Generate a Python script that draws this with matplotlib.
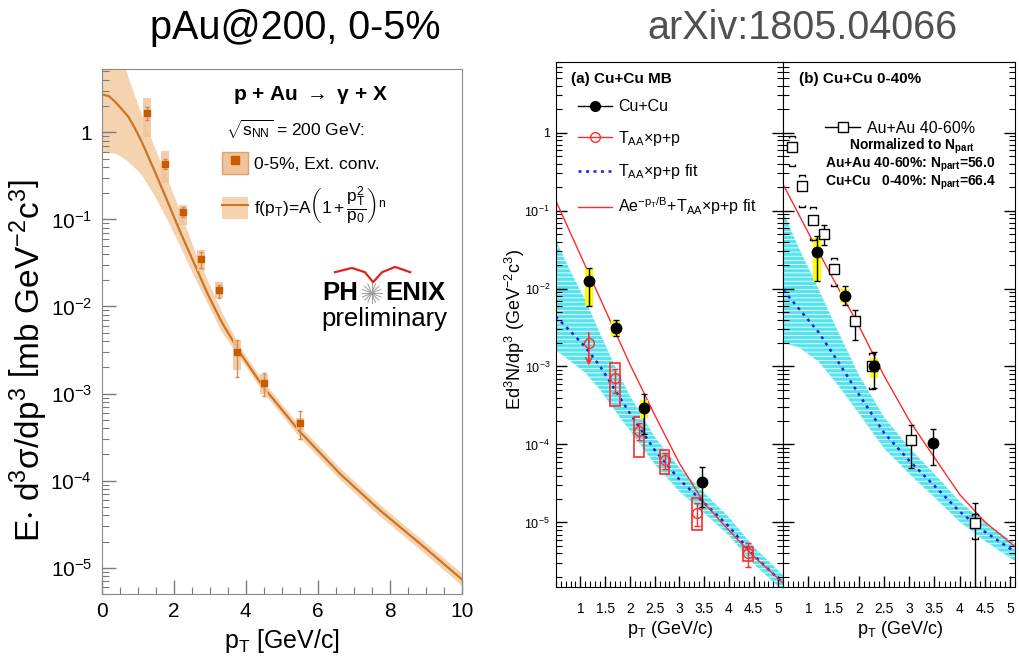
import numpy as np
import matplotlib
matplotlib.use("Agg")
import matplotlib.pyplot as plt
from matplotlib.patches import Patch
from matplotlib.lines import Line2D
from matplotlib.path import Path
from matplotlib.ticker import (LogLocator, MultipleLocator, FixedLocator, FuncFormatter,
                               NullFormatter)

plt.rcParams['font.family'] = ['Liberation Sans', 'DejaVu Sans']
plt.rcParams['mathtext.fontset'] = 'custom'
plt.rcParams['mathtext.rm'] = 'Liberation Sans'
plt.rcParams['mathtext.it'] = 'Liberation Sans:italic'
plt.rcParams['mathtext.bf'] = 'Liberation Sans:bold'
plt.rcParams['mathtext.default'] = 'regular'
plt.rcParams['hatch.linewidth'] = 0.6

# ---- left panel: p+Au direct photons, 0-5% ----
pau_pt = [1.25, 1.75, 2.25, 2.75, 3.25, 3.75, 4.5, 5.5]
pau_y = [1.68, 0.435, 0.122, 0.0352, 0.0153, 2.98e-3, 1.34e-3, 4.6e-4]
pau_stat_hi = [1.97, 0.50, 0.140, 0.0425, 0.0176, 4.1e-3, 1.73e-3, 6.3e-4]
pau_stat_lo = [1.38, 0.38, 0.107, 0.0278, 0.0124, 1.55e-3, 9.5e-4, 3.0e-4]
pau_sys_hi = [2.45, 0.617, 0.146, 0.0443, 0.0192, 4.1e-3, 1.7e-3, 5.3e-4]
pau_sys_lo = [0.89, 0.263, 0.0859, 0.0257, 0.01236, 1.86e-3, 1.0e-3, 3.85e-4]

fit_pt = [0, 0.2, 0.37, 0.55, 0.74, 0.92, 1.11, 1.48, 1.85, 2.22, 2.59, 2.96, 3.33,
          3.84, 4.49, 5.51, 6.62, 7.73, 8.84, 10]
fit_y = [2.735, 2.60, 2.25, 1.86, 1.51, 1.12, 0.78, 0.352, 0.153, 0.066, 0.0299, 0.0135,
         6.65e-3, 2.95e-3, 1.19e-3, 3.63e-4, 1.2e-4, 4.57e-5, 1.9e-5, 7.4e-6]
fit_hi = [60, 30, 14, 7.5, 4.2, 2.6, 1.58, 0.655, 0.27, 0.112, 0.0427, 0.0192, 8.7e-3,
          3.45e-3, 1.37e-3, 4.2e-4, 1.4e-4, 5.3e-5, 2.2e-5, 8.7e-6]
fit_lo = [0.59, 0.585, 0.574, 0.525, 0.459, 0.39, 0.324, 0.182, 0.0933, 0.0447, 0.0209,
          0.01035, 5.1e-3, 2.55e-3, 1.03e-3, 3.1e-4, 1.03e-4, 3.9e-5, 1.62e-5, 6.3e-6]
left_decades = [1e-5, 1e-4, 1e-3, 1e-2, 1e-1, 1]

# ---- right panel (a): Cu+Cu MB ----
cucu_mb_pt = [1.17, 1.71, 2.29, 3.46]
cucu_mb_y = [0.0123, 3.1e-3, 2.9e-4, 3.26e-5]
cucu_mb_stat_hi = [0.0182, 3.9e-3, 4.4e-4, 5.1e-5]
cucu_mb_stat_lo = [6.0e-3, 2.46e-3, 1.36e-4, 1.6e-5]
cucu_mb_sys_hi = [0.0185, 3.8e-3, 3.7e-4, 3.6e-5]
cucu_mb_sys_lo = [5.9e-3, 2.4e-3, 2.2e-4, 2.75e-5]

taa_pt = [1.17, 1.69, 2.18, 2.70, 3.36, 4.39]
taa_y = [2.0e-3, 7.1e-4, 1.47e-4, 6.4e-5, 1.32e-5, 4.1e-6]
taa_stat_hi = [np.nan, 9.3e-4, 1.86e-4, 7.8e-5, 1.78e-5, 5.5e-6]
taa_stat_lo = [np.nan, 4.6e-4, 1.15e-4, 4.8e-5, 8.9e-6, 2.7e-6]
taa_sys_hi = [np.nan, 1.12e-3, 2.24e-4, 8.5e-5, 2.04e-5, 4.9e-6]
taa_sys_lo = [np.nan, 3.16e-4, 7.0e-5, 4.2e-5, 7.9e-6, 3.2e-6]
taa_limit = [2.95e-3, 9.5e-4]   # upper-limit arrow, first point

a_fit_pt = [0.5, 0.8, 1.1, 1.4, 1.7, 2.0, 2.5, 3.0, 3.5, 4.0, 4.5, 5.1]
a_fit_y = [4.37e-3, 2.82e-3, 1.78e-3, 1.0e-3, 5.0e-4, 2.51e-4, 8.5e-5, 3.55e-5, 1.78e-5, 8.9e-6, 3.8e-6, 1.66e-6]
a_band_hi = [4.2e-2, 1.66e-2, 7.1e-3, 2.63e-3, 1.0e-3, 4.2e-4, 1.26e-4, 5.0e-5, 2.4e-5, 1.17e-5, 4.9e-6, 2.1e-6]
a_band_lo = [1.62e-3, 1.17e-3, 8.3e-4, 5.0e-4, 2.7e-4, 1.51e-4, 5.6e-5, 2.5e-5, 1.32e-5, 6.8e-6, 2.95e-6, 1.32e-6]

tot_pt = [0.5, 1.0, 1.5, 2.0, 2.5, 3.0, 3.5, 4.0, 4.5, 5.1]
a_tot_y = [0.135, 0.0269, 5.37e-3, 1.07e-3, 2.4e-4, 5.75e-5, 1.78e-5, 7.9e-6, 3.7e-6, 1.66e-6]

# ---- right panel (b): Cu+Cu 0-40% ----
cucu_c_pt = [1.17, 1.72, 2.30, 3.48]
cucu_c_y = [0.0293, 8.1e-3, 1.0e-3, 1.04e-4]
cucu_c_stat_hi = [0.047, 0.0107, 1.55e-3, 1.58e-4]
cucu_c_stat_lo = [0.0123, 6.2e-3, 5.3e-4, 5.4e-5]
cucu_c_sys_hi = [0.044, 9.8e-3, 1.29e-3, 1.2e-4]
cucu_c_sys_lo = [0.0123, 6.5e-3, 7.1e-4, 8.9e-5]

auau_pt = [0.67, 0.88, 1.08, 1.30, 1.51, 1.92, 2.26, 3.04, 4.31]
auau_y = [0.65, 0.207, 0.0745, 0.05, 0.0178, 3.8e-3, 1.02e-3, 1.15e-4, 9.8e-6]
auau_stat_hi = [np.nan, np.nan, np.nan, 0.066, np.nan, 5.3e-3, np.nan, 1.78e-4, 1.8e-5]
auau_stat_lo = [np.nan, np.nan, np.nan, 0.036, np.nan, 2.2e-3, np.nan, 5.0e-5, 1.5e-6]
auau_sys_hi = [0.89, 0.288, 0.112, np.nan, 0.0245, np.nan, 1.5e-3, np.nan, 1.3e-5]
auau_sys_lo = [0.37, 0.112, 0.042, np.nan, 0.0107, np.nan, 5.1e-4, np.nan, 6.2e-6]

b_fit_pt = [0.5, 0.8, 1.2, 1.6, 2.0, 2.5, 3.0, 3.5, 4.0, 4.5, 5.1]
b_fit_y = [9.5e-3, 5.6e-3, 2.75e-3, 1.12e-3, 4.4e-4, 1.41e-4, 6.2e-5, 2.95e-5, 1.38e-5, 7.6e-6, 4.2e-6]
b_band_hi = [9.5e-2, 3.4e-2, 9.8e-3, 2.7e-3, 7.8e-4, 2.24e-4, 9.1e-5, 4.2e-5, 1.86e-5, 1.0e-5, 5.4e-6]
b_band_lo = [2.0e-3, 1.78e-3, 1.15e-3, 5.6e-4, 2.5e-4, 8.9e-5, 4.2e-5, 2.1e-5, 1.02e-5, 5.8e-6, 3.2e-6]
b_tot_y = [0.214, 0.0513, 0.0129, 3.31e-3, 7.6e-4, 2.04e-4, 6.8e-5, 2.29e-5, 1.02e-5, 4.9e-6]
right_decades = [1e-5, 1e-4, 1e-3, 1e-2, 1e-1, 1]
right_xticks = [1, 1.5, 2, 2.5, 3, 3.5, 4, 4.5, 5]

ORANGE = '#C85A00'
CURVE = '#CC7428'
BAND = '#F6D3AF'
SYS = '#F1C39A'
RED = '#FF2A2A'
BLUE = '#1F1FE6'
CYAN = '#55E4EE'


def errs(y, lo, hi):
    y = np.asarray(y, float)
    return [y - np.asarray(lo, float), np.asarray(hi, float) - y]


def dec_fmt(v, pos):
    e = int(round(np.log10(v)))
    return '1' if e == 0 else r'$10^{%d}$' % e


fig = plt.figure(figsize=(10.19, 6.64), dpi=100)
fig.text(0.29, 0.958, 'pAu@200, 0-5%', fontsize=28.5, ha='center', va='center')
fig.text(0.787, 0.958, 'arXiv:1805.04066', fontsize=28.5, ha='center', va='center', color='#505050')

# ================= left =================
ax = fig.add_axes([0.0998, 0.1054, 0.3533, 0.7907])
ax.set_yscale('log')
ax.set_xlim(0, 10)
ax.set_ylim(5.0e-6, 5.33)
ax.fill_between(fit_pt, fit_lo, fit_hi, color=BAND, lw=0, zorder=1)
ax.plot(fit_pt, fit_y, color=CURVE, lw=1.6, zorder=2)
sh = np.asarray(pau_sys_hi) - np.asarray(pau_sys_lo)
ax.bar(pau_pt, sh, bottom=pau_sys_lo, width=0.22, color=SYS, alpha=0.85, lw=0, zorder=3)
ax.errorbar(pau_pt, pau_y, yerr=errs(pau_y, pau_stat_lo, pau_stat_hi), fmt='s', ms=5,
            color=ORANGE, ecolor='#D88A50', elinewidth=1, capsize=1.5, zorder=4)

for s in ax.spines.values():
    s.set_color('#8a8a8a')
ax.xaxis.set_major_locator(FixedLocator([0, 2, 4, 6, 8, 10]))
ax.xaxis.set_minor_locator(MultipleLocator(0.5))
ax.yaxis.set_major_locator(FixedLocator(left_decades))
ax.yaxis.set_minor_locator(LogLocator(base=10, subs=np.arange(2, 10), numticks=20))
ax.yaxis.set_major_formatter(FuncFormatter(dec_fmt))
ax.yaxis.set_minor_formatter(NullFormatter())
ax.tick_params(which='both', direction='in', color='#7a7a7a', top=False, right=False)
ax.tick_params(which='major', length=10, width=1)
ax.tick_params(which='minor', length=5, width=0.8)
ax.tick_params(axis='x', labelsize=15, pad=6)
ax.tick_params(axis='y', labelsize=15, pad=7)
ax.set_xlabel(r'p$_T$ [GeV/c]', fontsize=18)
ax.xaxis.set_label_coords(0.5, -0.062)
ax.set_ylabel(r'E$\cdot$ d$^3\sigma$/dp$^3$ $\left[\mathrm{mb\ GeV^{-2}c^3}\right]$', fontsize=24)
ax.yaxis.set_label_coords(-0.148, 0.445)

ax.text(0.579, 0.95, r'p + Au $\rightarrow$ $\gamma$ + X', transform=ax.transAxes,
        fontsize=15, fontweight='bold', ha='center', va='center')
ax.text(0.345, 0.884, r'$\sqrt{s_{NN}}$ = 200 GeV:', transform=ax.transAxes,
        fontsize=12.5, ha='left', va='center')
h_pts = (Patch(facecolor=SYS, edgecolor='#E0A070'),
         Line2D([], [], ls='none', marker='s', ms=6, color=ORANGE))
h_fit = (Patch(facecolor=BAND, edgecolor='none'), Line2D([], [], color=CURVE, lw=1.5))
ax.legend([h_pts, h_fit], ['0-5%, Ext. conv.', r'f(p$_T$)=A$\left(1+\dfrac{p_T^2}{p_0}\right)^n$'],
          loc='upper left', bbox_to_anchor=(0.335, 0.842), frameon=False, fontsize=12.5,
          handlelength=1.5, handleheight=1.55, labelspacing=0.6, handletextpad=0.35,
          borderpad=0, borderaxespad=0)

# PHENIX logo
ax.text(0.712, 0.573, 'PH', transform=ax.transAxes, fontsize=18.5, fontweight='bold',
        ha='right', va='center')
ax.text(0.787, 0.573, 'ENIX', transform=ax.transAxes, fontsize=18.5, fontweight='bold',
        ha='left', va='center')
ax.text(0.786, 0.524, 'preliminary', transform=ax.transAxes, fontsize=18.5,
        ha='center', va='center')
for ang in np.arange(0, 360, 22.5):
    r = np.deg2rad(ang)
    ax.plot([0.75, 0.75 + 0.028 * np.cos(r)], [0.573, 0.573 + 0.019 * np.sin(r)],
            transform=ax.transAxes, color='#9a9a9a', lw=0.7)
ax.plot([0.648, 0.695, 0.731, 0.754, 0.779, 0.815, 0.857],
        [0.613, 0.621, 0.613, 0.594, 0.613, 0.623, 0.613],
        transform=ax.transAxes, color='#E02020', lw=1.6)


# ================= right =================
def style_right(a, left_labels):
    a.set_yscale('log')
    a.set_xlim(0.5, 5.1)
    a.set_ylim(1.5e-6, 8.1)
    a.xaxis.set_major_locator(FixedLocator(right_xticks))
    a.xaxis.set_minor_locator(MultipleLocator(0.1))
    a.xaxis.set_major_formatter(FuncFormatter(lambda v, p: '%g' % v))
    a.yaxis.set_major_locator(FixedLocator(right_decades))
    a.yaxis.set_minor_locator(LogLocator(base=10, subs=np.arange(2, 10), numticks=20))
    a.yaxis.set_major_formatter(FuncFormatter(dec_fmt))
    a.yaxis.set_minor_formatter(NullFormatter())
    a.tick_params(which='both', direction='in', top=False, right=True, labelleft=left_labels)
    a.tick_params(which='major', length=8, width=1)
    a.tick_params(which='minor', length=4, width=0.8)
    a.tick_params(axis='x', labelsize=10, pad=11)
    a.tick_params(axis='y', labelsize=9, pad=4)
    a.set_xlabel(r'p$_T$ (GeV/c)', fontsize=13)
    a.xaxis.set_label_coords(0.503, -0.062)


axa = fig.add_axes([0.5453, 0.1164, 0.2234, 0.7907])
style_right(axa, True)
axa.set_ylabel(r'Ed$^3$N/dp$^3$ (GeV$^{-2}$c$^3$)', fontsize=13)
axa.yaxis.set_label_coords(-0.128, 0.49)
axa.fill_between(a_fit_pt, a_band_lo, a_band_hi, facecolor=CYAN, edgecolor='white',
                 hatch='----', lw=0, zorder=1)
axa.plot(a_fit_pt, a_fit_y, color=BLUE, ls=(0, (1.2, 1.8)), lw=1.8, zorder=2)
axa.plot(tot_pt, a_tot_y, color=RED, lw=1, zorder=2)
th = np.asarray(taa_sys_hi) - np.asarray(taa_sys_lo)
axa.bar(taa_pt, th, bottom=taa_sys_lo, width=0.2, fill=False, edgecolor=RED, lw=1.2, zorder=3)
axa.errorbar(taa_pt, taa_y, yerr=errs(taa_y, taa_stat_lo, taa_stat_hi), fmt='o', ms=7,
             mfc='none', mec=RED, ecolor=RED, elinewidth=1, capsize=2, zorder=4)
axa.annotate('', xy=(taa_pt[0], taa_limit[1]), xytext=(taa_pt[0], taa_limit[0]),
             arrowprops=dict(arrowstyle='->', color=RED, lw=1.2), zorder=4)
ch = np.asarray(cucu_mb_sys_hi) - np.asarray(cucu_mb_sys_lo)
axa.bar(cucu_mb_pt, ch, bottom=cucu_mb_sys_lo, width=0.17, color='#FFFF00', lw=0, zorder=5)
axa.errorbar(cucu_mb_pt, cucu_mb_y, yerr=errs(cucu_mb_y, cucu_mb_stat_lo, cucu_mb_stat_hi),
             fmt='o', ms=7.5, color='k', elinewidth=1, capsize=2, zorder=6)
axa.text(0.066, 0.967, '(a) Cu+Cu MB', transform=axa.transAxes, fontsize=11,
         fontweight='bold', ha='left', va='center')
hs = [Line2D([], [], color='k', marker='o', ms=7, lw=1),
      Line2D([], [], color=RED, marker='o', ms=7, mfc='none', lw=1),
      Line2D([], [], color=BLUE, ls=(0, (1.2, 1.8)), lw=1.8),
      Line2D([], [], color=RED, lw=1)]
axa.legend(hs, ['Cu+Cu', r'T$_{AA}$×p+p', r'T$_{AA}$×p+p fit', r'Ae$^{-p_T/B}$+T$_{AA}$×p+p fit'],
           loc='upper left', bbox_to_anchor=(0.1, 0.928), frameon=False, fontsize=11.5,
           handlelength=2.1, labelspacing=0.9, handletextpad=0.4, borderpad=0, borderaxespad=0)

axb = fig.add_axes([0.7687, 0.1164, 0.2274, 0.7907])
style_right(axb, False)
axb.fill_between(b_fit_pt, b_band_lo, b_band_hi, facecolor=CYAN, edgecolor='white',
                 hatch='----', lw=0, zorder=1)
axb.plot(b_fit_pt, b_fit_y, color=BLUE, ls=(0, (1.2, 1.8)), lw=1.8, zorder=2)
axb.plot(tot_pt, b_tot_y, color=RED, lw=1, zorder=2)
bh = np.asarray(cucu_c_sys_hi) - np.asarray(cucu_c_sys_lo)
axb.bar(cucu_c_pt, bh, bottom=cucu_c_sys_lo, width=0.17, color='#FFFF00', lw=0, zorder=3)
axb.errorbar(auau_pt, auau_y, yerr=errs(auau_y, auau_stat_lo, auau_stat_hi), fmt='s', ms=7,
             mfc='white', mec='k', ecolor='k', elinewidth=1, capsize=2, zorder=4)
top_br = Path([(-1, -0.5), (-1, 0), (1, 0), (1, -0.5)],
              [Path.MOVETO, Path.LINETO, Path.LINETO, Path.LINETO])
bot_br = Path([(-1, 0.5), (-1, 0), (1, 0), (1, 0.5)],
              [Path.MOVETO, Path.LINETO, Path.LINETO, Path.LINETO])
axb.plot(auau_pt, auau_sys_hi, ls='none', marker=top_br, ms=5, mfc='none', mec='k', mew=1, zorder=4)
axb.plot(auau_pt, auau_sys_lo, ls='none', marker=bot_br, ms=5, mfc='none', mec='k', mew=1, zorder=4)
axb.errorbar(cucu_c_pt, cucu_c_y, yerr=errs(cucu_c_y, cucu_c_stat_lo, cucu_c_stat_hi),
             fmt='o', ms=7.5, color='k', elinewidth=1, capsize=2, zorder=6)
axb.text(0.069, 0.967, '(b) Cu+Cu 0-40%', transform=axb.transAxes, fontsize=11,
         fontweight='bold', ha='left', va='center')
axb.legend([Line2D([], [], color='k', marker='s', ms=7, mfc='white', lw=1)], ['Au+Au 40-60%'],
           loc='center left', bbox_to_anchor=(0.18, 0.873), frameon=False, fontsize=11.5,
           handlelength=2.2, handletextpad=0.4, borderpad=0, borderaxespad=0)
axb.text(0.554, 0.839, r'Normalized to N$_{part}$', transform=axb.transAxes, fontsize=10,
         fontweight='bold', ha='center', va='center')
axb.text(0.549, 0.803, r'Au+Au 40-60%: N$_{part}$=56.0', transform=axb.transAxes, fontsize=10,
         fontweight='bold', ha='center', va='center')
axb.text(0.549, 0.77, r'Cu+Cu   0-40%: N$_{part}$=66.4', transform=axb.transAxes, fontsize=10,
         fontweight='bold', ha='center', va='center')

fig.savefig('out.png', dpi=100)
